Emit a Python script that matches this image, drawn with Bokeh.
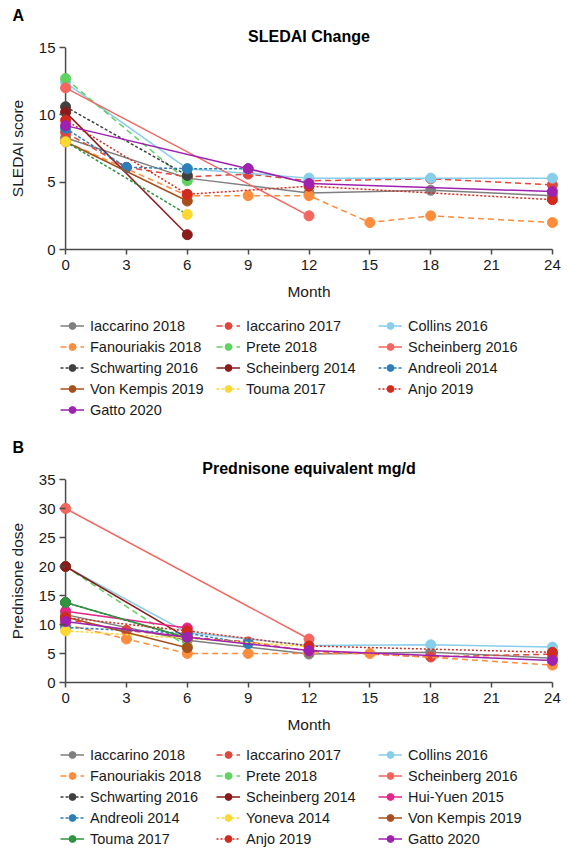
from bokeh.plotting import figure
from bokeh.models import Legend, LegendItem, FixedTicker, Span, Title, Range1d
from bokeh.layouts import column
from bokeh.embed import file_html
from bokeh.resources import INLINE

FONT = "Liberation Sans"
AX = "#4a4a4a"
TXT = "#1a1a1a"

months_ticks = [0, 3, 6, 9, 12, 15, 18, 21, 24]
sledai_ticks = [0, 5, 10, 15]
pred_ticks = [0, 5, 10, 15, 20, 25, 30, 35]

# ---------------- Panel A: SLEDAI ----------------
a_iacc18_m = [0, 6, 12, 18, 24];          a_iacc18_v = [8.3, 5.3, 4.2, 4.4, 4.0]
a_iacc17_m = [0, 3, 6, 9, 12, 18, 24];    a_iacc17_v = [8.7, 6.1, 5.4, 5.6, 5.1, 5.25, 4.8]
a_collins_m = [0, 6, 12, 18, 24];         a_collins_v = [12.4, 6.0, 5.3, 5.3, 5.3]
a_fanou_m = [0, 6, 9, 12, 15, 18, 24];    a_fanou_v = [8.0, 4.0, 4.0, 4.0, 2.0, 2.5, 2.0]
a_prete_m = [0, 6];                        a_prete_v = [12.7, 5.1]
a_schein16_m = [0, 12];                    a_schein16_v = [12.0, 2.5]
a_schwart_m = [0, 6];                      a_schwart_v = [10.6, 5.5]
a_schein14_m = [0, 6];                     a_schein14_v = [10.2, 1.1]
a_andreoli_m = [0, 3, 6, 9];               a_andreoli_v = [9.0, 6.1, 6.0, 6.0]
a_vonkemp_m = [0, 6];                      a_vonkemp_v = [8.0, 3.6]
a_touma_m = [0, 6];                        a_touma_v = [8.0, 2.6]
a_anjo_m = [0, 6, 12, 24];                 a_anjo_v = [9.6, 4.1, 4.7, 3.7]
a_gatto_m = [0, 9, 12, 24];                a_gatto_v = [9.2, 6.0, 4.9, 4.3]

# ---------------- Panel B: Prednisone ----------------
b_iacc18_m = [0, 6, 12, 18, 24];          b_iacc18_v = [11.7, 7.3, 4.9, 5.2, 4.2]
b_iacc17_m = [0, 3, 6, 9, 12, 18, 24];    b_iacc17_v = [10.9, 9.0, 7.8, 7.0, 5.4, 4.4, 4.9]
b_collins_m = [0, 6, 12, 18, 24];         b_collins_v = [20.0, 8.6, 6.4, 6.5, 6.1]
b_fanou_m = [0, 3, 6, 9, 15, 24];         b_fanou_v = [10.0, 7.5, 5.0, 5.0, 5.0, 3.0]
b_prete_m = [0, 6];                        b_prete_v = [20.0, 6.2]
b_schein16_m = [0, 12];                    b_schein16_v = [30.0, 7.5]
b_schwart_m = [0, 6];                      b_schwart_v = [13.8, 7.6]
b_schein14_m = [0, 6];                     b_schein14_v = [20.0, 7.7]
b_huiyuen_m = [0, 6];                      b_huiyuen_v = [12.3, 9.4]
b_andreoli_m = [0, 6, 9];                  b_andreoli_v = [9.5, 8.5, 6.7]
b_yoneva_m = [0, 6, 12];                   b_yoneva_v = [8.9, 7.6, 6.2]
b_vonkemp_m = [0, 6];                      b_vonkemp_v = [11.3, 6.0]
b_touma_m = [0, 6];                        b_touma_v = [13.8, 7.7]
b_anjo_m = [0, 6, 12, 24];                 b_anjo_v = [11.2, 8.9, 6.3, 5.2]
b_gatto_m = [0, 6, 12, 24];                b_gatto_v = [10.5, 7.8, 5.5, 3.8]

C = {
    "gray": "#7f7f7f", "red": "#e2463a", "lblue": "#87ceeb", "orange": "#fd8d3c",
    "green": "#5fd35f", "salmon": "#f4665e", "dgray": "#404040", "dred": "#8b1a1a",
    "blue": "#2c7fb8", "brown": "#a8501c", "yellow": "#fdd835", "anjo": "#d42a1e",
    "purple": "#a020b0", "magenta": "#e6248a", "dgreen": "#2e9440",
}
SOLID, LDASH, SDASH, DOT = "solid", "6 4", "3 2", "2 2"

series_a = [
    ("Iaccarino 2018", a_iacc18_m, a_iacc18_v, C["gray"], SOLID, None),
    ("Iaccarino 2017", a_iacc17_m, a_iacc17_v, C["red"], LDASH, None),
    ("Collins 2016", a_collins_m, a_collins_v, C["lblue"], SOLID, None),
    ("Fanouriakis 2018", a_fanou_m, a_fanou_v, C["orange"], LDASH, None),
    ("Prete 2018", a_prete_m, a_prete_v, C["green"], LDASH, None),
    ("Scheinberg 2016", a_schein16_m, a_schein16_v, C["salmon"], SOLID, None),
    ("Schwarting 2016", a_schwart_m, a_schwart_v, C["dgray"], SDASH, None),
    ("Scheinberg 2014", a_schein14_m, a_schein14_v, C["dred"], SOLID, None),
    ("Andreoli 2014", a_andreoli_m, a_andreoli_v, C["blue"], SDASH, None),
    ("Von Kempis 2019", a_vonkemp_m, a_vonkemp_v, C["brown"], SOLID, None),
    ("Touma 2017", a_touma_m, a_touma_v, C["yellow"], SDASH, C["dgreen"]),
    ("Anjo 2019", a_anjo_m, a_anjo_v, C["anjo"], DOT, None),
    ("Gatto 2020", a_gatto_m, a_gatto_v, C["purple"], SOLID, None),
]
series_b = [
    ("Iaccarino 2018", b_iacc18_m, b_iacc18_v, C["gray"], SOLID, None),
    ("Iaccarino 2017", b_iacc17_m, b_iacc17_v, C["red"], LDASH, None),
    ("Collins 2016", b_collins_m, b_collins_v, C["lblue"], SOLID, None),
    ("Fanouriakis 2018", b_fanou_m, b_fanou_v, C["orange"], LDASH, None),
    ("Prete 2018", b_prete_m, b_prete_v, C["green"], LDASH, None),
    ("Scheinberg 2016", b_schein16_m, b_schein16_v, C["salmon"], SOLID, None),
    ("Schwarting 2016", b_schwart_m, b_schwart_v, C["dgray"], SDASH, None),
    ("Scheinberg 2014", b_schein14_m, b_schein14_v, C["dred"], SOLID, None),
    ("Hui-Yuen 2015", b_huiyuen_m, b_huiyuen_v, C["magenta"], SOLID, None),
    ("Andreoli 2014", b_andreoli_m, b_andreoli_v, C["blue"], SDASH, None),
    ("Yoneva 2014", b_yoneva_m, b_yoneva_v, C["yellow"], SDASH, None),
    ("Von Kempis 2019", b_vonkemp_m, b_vonkemp_v, C["brown"], SOLID, None),
    ("Touma 2017", b_touma_m, b_touma_v, C["dgreen"], SOLID, None),
    ("Anjo 2019", b_anjo_m, b_anjo_v, C["anjo"], DOT, None),
    ("Gatto 2020", b_gatto_m, b_gatto_v, C["purple"], SOLID, None),
]

ROW_H, ROW_SP = 17, 4
COL_X = [1, 157, 319]   # relative to the aligned plot frame


def make_panel(letter, title, ylabel, ymax, yticks, series, frame_h, top_border):
    p = figure(frame_width=499, frame_height=frame_h, output_backend="svg",
               toolbar_location=None, title=letter,
               x_range=Range1d(-0.3, 24.3), y_range=Range1d(0, ymax),
               min_border_left=59, min_border_right=12, min_border_top=top_border,
               min_border_bottom=58)
    p.outline_line_color = None
    p.grid.visible = False
    p.background_fill_color = "white"

    p.title.align = "left"
    p.title.offset = -47
    p.title.text_font = FONT
    p.title.text_font_size = "16px"
    p.title.text_font_style = "bold"
    p.title.text_color = "black"
    p.title.standoff = 0
    p.add_layout(Title(text=title, align="center", text_font=FONT,
                       text_font_size="16px", text_font_style="bold",
                       text_color="black", standoff=5), "above")

    xa = p.xaxis[0]
    xa.ticker = FixedTicker(ticks=months_ticks)
    xa.bounds = (0, 24)
    xa.axis_label = "Month"
    ya = p.yaxis[0]
    ya.ticker = FixedTicker(ticks=yticks)
    ya.axis_label = ylabel
    ya.axis_line_alpha = 0
    ya.major_tick_in = 6
    ya.major_tick_out = 0
    ya.major_label_standoff = 4
    xa.major_tick_in = 0
    xa.major_tick_out = 5
    xa.major_label_standoff = 5
    for ax in (xa, ya):
        ax.axis_line_color = AX
        ax.axis_line_width = 1.5
        ax.major_tick_line_color = AX
        ax.major_tick_line_width = 1.5
        ax.minor_tick_line_color = None
        ax.major_label_text_font = FONT
        ax.major_label_text_font_size = "15px"
        ax.major_label_text_color = TXT
        ax.axis_label_text_font = FONT
        ax.axis_label_text_font_size = "15.5px"
        ax.axis_label_text_font_style = "normal"
        ax.axis_label_text_color = TXT
        ax.axis_label_standoff = 10

    p.add_layout(Span(location=0, dimension="height", line_color=AX, line_width=1.5,
                      level="underlay"))

    for label, m, v, color, dash, line_override in series:
        p.line(m, v, line_color=line_override or color, line_width=1.5, line_dash=dash)
        p.scatter(m, v, size=10, fill_color=color, line_color=color)
    return p


def make_legend(series, height, top):
    # the series are drawn here outside the visible ranges only to feed the legend
    lg = figure(width=570, height=height, output_backend="svg", toolbar_location=None,
                x_axis_type=None, y_axis_type=None, min_border=0,
                x_range=Range1d(100, 101), y_range=Range1d(100, 101))
    lg.outline_line_color = None
    lg.grid.visible = False
    items = []
    for label, m, v, color, dash, line_override in series:
        lr = lg.line(m, v, line_color=color, line_width=1.5, line_dash=dash)
        sr = lg.scatter(m, v, size=10, fill_color=color, line_color=color)
        items.append(LegendItem(label=label, renderers=[lr, sr]))
    for c in range(3):
        col_items = items[c::3]
        n = len(col_items)
        h = n * ROW_H + (n - 1) * ROW_SP
        y = height - top - h
        leg = Legend(items=col_items, orientation="vertical", location=(COL_X[c], y),
                     label_text_font=FONT, label_text_font_size="14.5px",
                     label_text_color=TXT, glyph_width=24, glyph_height=ROW_H,
                     label_height=ROW_H, label_standoff=6, spacing=ROW_SP,
                     padding=0, margin=0, border_line_alpha=0,
                     background_fill_alpha=0)
        lg.add_layout(leg, "center")
    return lg


pa = make_panel("A", "SLEDAI Change", "SLEDAI score", 15, sledai_ticks, series_a, 202, 47)
la = make_legend(series_a, 112, 10)
pb = make_panel("B", "Prednisone equivalent mg/d", "Prednisone dose", 35, pred_ticks,
                series_b, 203, 60)
lb = make_legend(series_b, 108, 6)

layout = column(pa, la, pb, lb, spacing=0)
open("out.html", "w").write(file_html(layout, INLINE))
